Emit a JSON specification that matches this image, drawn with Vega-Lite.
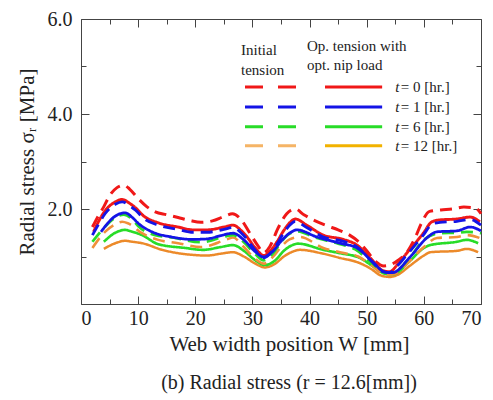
{
  "$schema": "https://vega.github.io/schema/vega-lite/v6.json",
  "width": 400,
  "height": 285,
  "autosize": "none",
  "padding": {"left": 81, "top": 19, "right": 12, "bottom": 96},
  "background": "white",
  "config": {
    "view": {"stroke": "#444", "strokeWidth": 1},
    "font": "Liberation Serif",
    "axis": {"grid": false, "domain": false, "tickColor": "#444", "labelFont": "Liberation Serif", "titleFont": "Liberation Serif", "labelColor": "#222", "titleColor": "#222", "labelFontSize": 20, "titleFontSize": 21, "titleFontWeight": "normal"}
  },
  "title": {"text": "(b) Radial stress (r = 12.6[mm])", "orient": "bottom", "font": "Liberation Serif", "fontSize": 20, "fontWeight": "normal", "color": "#222", "offset": 19, "dx": 8},
  "resolve": {
    "scale": {"color": "independent", "strokeDash": "independent", "strokeWidth": "independent"},
    "axis": {"x": "independent", "y": "independent"}
  },
  "layer": [
    {
      "data": {"values": [
        {"s": "OS", "W": [4,6,7.7,9,10.7,14.2,18.2,20,22,24.5,26.6,28.5,30.5,32.2,34,35.5,37,38.3,42,45.3,48.8,51,52.3,54,55.5,57.5,60,61.1,65.8,67.5,69.5], "v": [1.16,1.28,1.33,1.31,1.28,1.14,1.05,1.03,1.02,1.06,1.09,1.0,0.85,0.77,0.85,1.0,1.1,1.14,1.07,0.97,0.86,0.72,0.61,0.57,0.62,0.8,1.02,1.09,1.12,1.16,1.09]},
        {"s": "GS", "W": [4,6,7.7,9,10.7,13.5,18.2,21.4,24.5,26.6,28.5,30.5,32.2,34,35.5,37,38,42.4,45.3,48.8,51,52.9,54.5,57.5,60,61.1,65.8,67.5,69.5], "v": [1.31,1.5,1.56,1.52,1.45,1.26,1.18,1.14,1.2,1.24,1.12,0.92,0.82,0.92,1.12,1.24,1.27,1.14,1.07,0.97,0.8,0.65,0.62,0.9,1.18,1.24,1.31,1.35,1.28]},
        {"s": "OD", "W": [2,4.2,6,7.2,8.2,10.7,13.5,17,21,25.5,26.6,28.5,30.5,32,33.5,35,36.5,38.3,42.4,45.3,48.5,51,53,54.5,57.5,60,62.3,65.8,67.5,70], "v": [1.18,1.52,1.68,1.73,1.7,1.49,1.35,1.28,1.2,1.36,1.4,1.2,0.95,0.85,0.98,1.2,1.36,1.41,1.18,1.09,1.0,0.8,0.63,0.62,0.9,1.2,1.39,1.41,1.45,1.38]},
        {"s": "GD", "W": [2,4,6,7.5,9,10,13,16,21,25.5,26.6,28.5,30.5,32,33.5,35,36.5,37.8,41,45,48,51,53,54.5,57.5,60,62.8,65.8,67.5,70], "v": [1.31,1.6,1.82,1.88,1.78,1.64,1.45,1.4,1.3,1.43,1.45,1.3,1.05,0.92,1.05,1.3,1.48,1.53,1.4,1.27,1.15,0.85,0.68,0.66,0.97,1.35,1.49,1.5,1.52,1.49]},
        {"s": "RS", "W": [2.2,3,4.2,6,7.2,8.5,9.5,11,13.5,17,19.6,22,25,26.6,28,29,30.5,32,33,34.3,35.5,36.6,37.5,39.5,42.4,45.9,48.3,50.6,52.9,54,55.5,57,59.9,61.4,62.8,65.8,68.1,69.8], "v": [1.52,1.72,1.96,2.15,2.2,2.12,2.03,1.85,1.71,1.62,1.56,1.56,1.62,1.66,1.55,1.42,1.18,1.02,1.1,1.31,1.55,1.72,1.79,1.66,1.45,1.36,1.24,0.97,0.7,0.68,0.85,1.07,1.49,1.73,1.77,1.79,1.83,1.73]},
        {"s": "RD", "W": [2,3,4,5,6.3,7.5,8.5,10,11.5,13,15,17,19,21,23,25,26.5,28,29.5,31,32,33,34.5,36,37.5,39,41,43,45,47,48.5,50,51.5,53,54,55.5,57,58.5,59.5,61,63,65,67,69,70], "v": [1.62,1.85,2.05,2.28,2.45,2.5,2.42,2.22,2.05,1.94,1.88,1.82,1.76,1.72,1.75,1.84,1.9,1.78,1.5,1.22,1.08,1.2,1.6,1.9,2.0,1.88,1.75,1.65,1.56,1.45,1.32,1.12,0.9,0.8,0.82,0.92,1.08,1.4,1.68,1.95,1.98,2.0,2.04,2.02,1.9]},
        {"s": "BS", "W": [3.5,6,7.7,9,10,12.4,15.9,19.4,22,24.5,26.6,28.5,30.5,31.9,33.5,35,36.6,37.8,41.3,45.3,48.3,51.1,53.2,54.5,57.6,60.5,62.3,65.8,68.1,70], "v": [1.52,1.85,1.92,1.82,1.7,1.52,1.41,1.36,1.37,1.44,1.49,1.35,1.1,0.99,1.1,1.32,1.5,1.56,1.41,1.28,1.18,0.88,0.67,0.66,0.99,1.39,1.52,1.54,1.62,1.54]},
        {"s": "BD", "W": [2,3,4.2,6,7.2,8.5,9.5,11,13.5,17,19.6,22,25,26.6,28,29,30.5,32,33,34.3,35.5,36.6,37.5,39.5,42.4,45.9,48.3,50.6,52.9,54,55.5,57,59.9,61.4,62.8,65.8,68.1,70], "v": [1.45,1.66,1.9,2.1,2.15,2.07,1.98,1.8,1.66,1.57,1.51,1.51,1.57,1.61,1.5,1.37,1.13,0.97,1.05,1.26,1.5,1.67,1.74,1.61,1.41,1.32,1.2,0.93,0.68,0.66,0.82,1.03,1.45,1.68,1.72,1.74,1.78,1.66]}
      ]},
      "transform": [{"flatten": ["W", "v"]}],
      "mark": {"type": "line", "interpolate": "monotone"},
      "encoding": {
        "x": {"field": "W", "type": "quantitative", "scale": {"domain": [0, 70], "nice": false}, "axis": {"orient": "bottom", "values": [0,10,20,30,40,50,60,70], "tickSize": -8, "labelPadding": 12, "title": "Web width position W [mm]", "titlePadding": 5, "titleX": 208}},
        "y": {"field": "v", "type": "quantitative", "scale": {"domain": [0, 6], "nice": false}, "axis": {"orient": "left", "values": [0,2,4,6], "tickSize": -8, "labelPadding": 17, "labelExpr": "datum.value == 0 ? '' : format(datum.value, '.1f')", "title": "Radial stress σᵣ [MPa]", "titlePadding": 10}},
        "color": {"field": "s", "type": "nominal", "legend": null, "scale": {"domain": ["RD","RS","BD","BS","GD","GS","OD","OS"], "range": ["#f01818","#f01818","#1414e6","#1414e6","#28dc28","#28dc28","#f0903a","#ec8a2a"]}},
        "strokeDash": {"field": "s", "type": "nominal", "legend": null, "scale": {"domain": ["RD","RS","BD","BS","GD","GS","OD","OS"], "range": [[12,7],[1,0],[12,7],[1,0],[12,7],[1,0],[12,7],[1,0]]}},
        "strokeWidth": {"field": "s", "type": "nominal", "legend": null, "scale": {"domain": ["RD","RS","BD","BS","GD","GS","OD","OS"], "range": [3,2.5,3.5,3.5,3,2,2.5,1.5]}}
      }
    },
    {
      "data": {"values": [{"t": "0", "y": 4.57}, {"t": "1", "y": 4.15}, {"t": "6", "y": 3.73}, {"t": "12", "y": 3.33}]},
      "mark": {"type": "rule", "strokeWidth": 3, "strokeDash": [18, 15]},
      "encoding": {
        "x": {"datum": 28.7, "type": "quantitative", "axis": {"orient": "top", "values": [0,10,20,30,40,50,60,70], "tickSize": -8, "labels": false, "title": null}},
        "x2": {"datum": 38.3},
        "y": {"field": "y", "type": "quantitative", "axis": {"orient": "right", "values": [0,2,4,6], "tickSize": -8, "labels": false, "title": null}},
        "color": {"field": "t", "type": "nominal", "legend": null, "scale": {"domain": ["0","1","6","12"], "range": ["#f01818","#1414e6","#28dc28","#f5b466"]}}
      }
    },
    {
      "data": {"values": [{"t": "0", "y": 4.57}, {"t": "1", "y": 4.15}, {"t": "6", "y": 3.73}, {"t": "12", "y": 3.33}]},
      "mark": {"type": "rule", "strokeWidth": 3},
      "encoding": {
        "x": {"datum": 42.7, "type": "quantitative", "axis": {"orient": "bottom", "values": [5,15,25,35,45,55,65], "tickSize": -5, "labels": false, "title": null}},
        "x2": {"datum": 52.7},
        "y": {"field": "y", "type": "quantitative", "axis": {"orient": "left", "values": [1,3,5], "tickSize": -5, "labels": false, "title": null}},
        "color": {"field": "t", "type": "nominal", "legend": null, "scale": {"domain": ["0","1","6","12"], "range": ["#f01818","#1414e6","#28dc28","#f2b200"]}}
      }
    },
    {
      "data": {"values": [{"t": "0", "y": 4.57}, {"t": "1", "y": 4.15}, {"t": "6", "y": 3.73}, {"t": "12", "y": 3.33}]},
      "mark": {"type": "text", "text": "t", "fontStyle": "italic", "fontSize": 15, "align": "left", "baseline": "middle", "color": "#222"},
      "encoding": {
        "x": {"datum": 55.0, "type": "quantitative", "axis": {"orient": "top", "values": [5,15,25,35,45,55,65], "tickSize": -5, "labels": false, "title": null}},
        "y": {"field": "y", "type": "quantitative", "axis": {"orient": "right", "values": [1,3,5], "tickSize": -5, "labels": false, "title": null}}
      }
    },
    {
      "data": {"values": [{"lab": "= 0 [hr.]", "y": 4.57}, {"lab": "= 1 [hr.]", "y": 4.15}, {"lab": "= 6 [hr.]", "y": 3.73}, {"lab": "= 12 [hr.]", "y": 3.33}]},
      "mark": {"type": "text", "fontSize": 15, "align": "left", "baseline": "middle", "color": "#222", "dx": 5.5},
      "encoding": {
        "x": {"datum": 55.0, "type": "quantitative", "axis": null},
        "y": {"field": "y", "type": "quantitative", "axis": null},
        "text": {"field": "lab", "type": "nominal"}
      }
    },
    {
      "data": {"values": [{}]},
      "mark": {"type": "text", "text": ["Initial", "tension"], "fontSize": 15, "align": "left", "baseline": "alphabetic", "lineHeight": 20, "color": "#222"},
      "encoding": {
        "x": {"datum": 28.0, "type": "quantitative", "axis": null},
        "y": {"datum": 5.24, "type": "quantitative", "axis": null}
      }
    },
    {
      "data": {"values": [{}]},
      "mark": {"type": "text", "text": ["Op. tension with", "opt. nip load"], "fontSize": 15, "align": "left", "baseline": "alphabetic", "lineHeight": 19, "color": "#222"},
      "encoding": {
        "x": {"datum": 39.55, "type": "quantitative", "axis": null},
        "y": {"datum": 5.33, "type": "quantitative", "axis": null}
      }
    }
  ]
}
